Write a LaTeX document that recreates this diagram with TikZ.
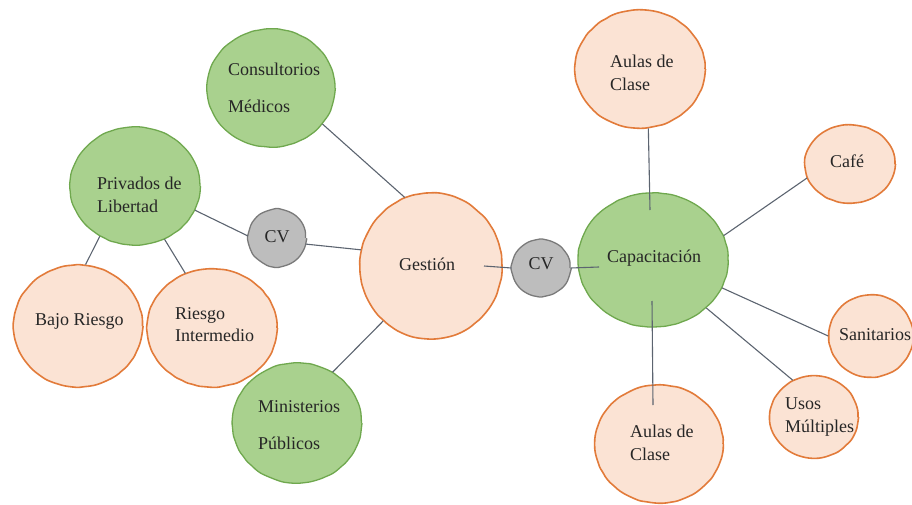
\documentclass[tikz,border=0pt]{standalone}
\usepackage{fontspec}
\setmainfont{Liberation Serif}
\usetikzlibrary{shapes.geometric,decorations.pathmorphing}
\definecolor{gfill}{HTML}{A9D18E}
\definecolor{gline}{HTML}{6FA84E}
\definecolor{ofill}{HTML}{FBE3D4}
\definecolor{oline}{HTML}{E27B3A}
\definecolor{cfill}{HTML}{BDBDBD}
\definecolor{cline}{HTML}{7A7A7A}
\definecolor{conn}{HTML}{5C6470}
\definecolor{txt}{HTML}{262626}
\tikzset{
  bub/.style={ellipse, inner sep=0pt, decorate,
    decoration={random steps,segment length=6pt,amplitude=0.35pt}, rounded corners=1.5pt},
  gbub/.style={bub, fill=gfill, draw=gline, line width=1.3pt},
  obub/.style={bub, fill=ofill, draw=oline, line width=1.6pt},
  cbub/.style={bub, fill=cfill, draw=cline, line width=1.3pt},
  lbl/.style={anchor=mid west, inner sep=0pt, text=txt, font=\fontsize{18}{21}\selectfont},
  clbl/.style={anchor=mid, inner sep=0pt, text=txt, font=\fontsize{18}{21}\selectfont},
  link/.style={draw=conn, line width=1.1pt}
}
\begin{document}
\begin{tikzpicture}[x=1pt,y=-1pt]
\useasboundingbox (0,0) rectangle (912,505);
% bubbles
\node[gbub, minimum width=128pt, minimum height=118pt] (cons) at (271,88) {};
\node[gbub, minimum width=130pt, minimum height=118pt] (priv) at (135,186) {};
\node[cbub, minimum width=57pt, minimum height=57pt] (cvl) at (277,238) {};
\node[obub, minimum width=129pt, minimum height=122pt] (bajo) at (78,326) {};
\node[obub, minimum width=130pt, minimum height=118pt] (ries) at (212,328) {};
\node[obub, minimum width=142pt, minimum height=146pt] (gest) at (431,266) {};
\node[gbub, minimum width=129pt, minimum height=120pt] (mini) at (297,423) {};
\node[cbub, minimum width=58pt, minimum height=56pt] (cvr) at (541,268) {};
\node[gbub, minimum width=150pt, minimum height=134pt] (cap) at (653,260) {};
\node[obub, minimum width=130pt, minimum height=118pt] (ault) at (640,69) {};
\node[obub, minimum width=90pt, minimum height=78pt] (cafe) at (850,164) {};
\node[obub, minimum width=84pt, minimum height=82pt] (sani) at (871,336) {};
\node[obub, minimum width=88pt, minimum height=82pt] (usos) at (814,417) {};
\node[obub, minimum width=128pt, minimum height=118pt] (aulb) at (659,444) {};
% inner end points
\coordinate (gin) at (484,266);
\coordinate (capw) at (599,267);
\coordinate (capn) at (650,210);
\coordinate (caps) at (652,301);
\coordinate (aulbin) at (653,405);
% texts
\node[lbl] (tcons1) at (228,73) {Consultorios};
\node[lbl] (tcons2) at (228,110) {Médicos};
\node[lbl] (tpriv1) at (97,187) {Privados de};
\node[lbl] (tpriv2) at (97,210) {Libertad};
\node[clbl] (tcvl) at (277,240) {CV};
\node[lbl] (tbajo) at (35,323) {Bajo Riesgo};
\node[lbl] (tries1) at (175,317) {Riesgo};
\node[lbl] (tries2) at (175,339) {Intermedio};
\node[lbl] (tgest) at (399,268) {Gestión};
\node[lbl] (tmini1) at (258,410) {Ministerios};
\node[lbl] (tmini2) at (258,447) {Públicos};
\node[clbl] (tcvr) at (541,267) {CV};
\node[lbl] (tcap) at (607,260) {Capacitación};
\node[lbl] (taul1) at (610,65) {Aulas de};
\node[lbl] (taul2) at (610,88) {Clase};
\node[lbl] (tcafe) at (830,165) {Café};
\node[lbl] (tsani) at (839,338) {Sanitarios};
\node[lbl] (tusos1) at (785,407) {Usos};
\node[lbl] (tusos2) at (785,430) {Múltiples};
\node[lbl] (taulb1) at (630,435) {Aulas de};
\node[lbl] (taulb2) at (630,458) {Clase};
% connectors
\draw[link] (cons.-35) -- (gest.111);
\draw[link] (priv.-22) -- (cvl.176);
\draw[link] (cvl.-12) -- (gest.167);
\draw[link] (priv.-125) -- (bajo.83);
\draw[link] (priv.-61) -- (ries.116);
\draw[link] (gest.-131) -- (mini.55);
\draw[link] (gin) -- (cvr.180);
\draw[link] (cvr.0) -- (capw);
\draw[link] (ault.-82) -- (capn);
\draw[link] (cafe.-162) -- (cap.19);
\draw[link] (sani.180) -- (cap.-22);
\draw[link] (usos.120) -- (cap.-42);
\draw[link] (aulbin) -- (caps);
\end{tikzpicture}
\end{document}
